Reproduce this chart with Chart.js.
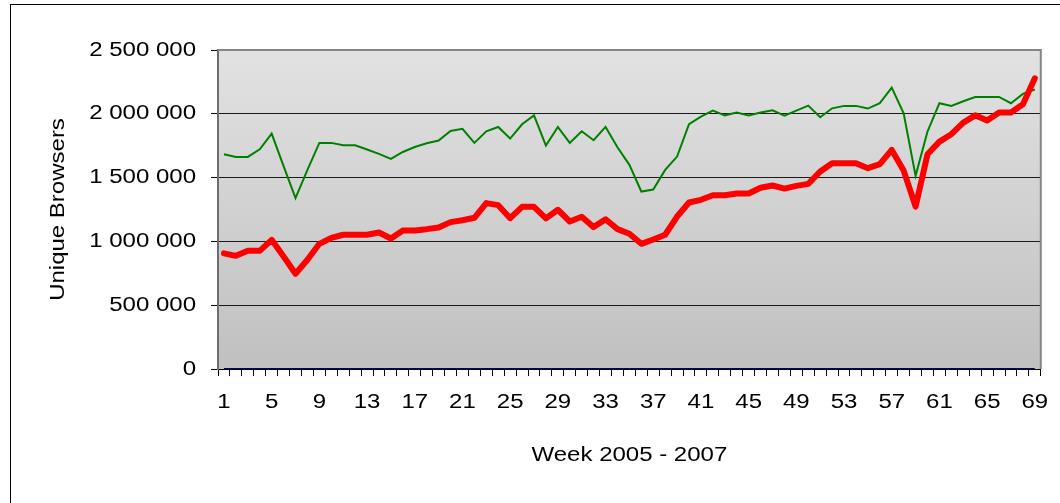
<!DOCTYPE html>
<html>
<head>
<meta charset="utf-8">
<script src="https://cdn.jsdelivr.net/npm/chart.js@4"></script>
<style>
  html, body { margin: 0; padding: 0; background: #fff; overflow: hidden; }
  #wrap { position: relative; width: 1060px; height: 503px; }
  #frame { position: absolute; left: 10px; top: 4px; width: 1200px; height: 700px; border: 1px solid #000; }
  #chart { position: absolute; left: 0; top: 0; }
</style>
</head>
<body>
<div id="wrap">
  <div id="frame"></div>
  <canvas id="chart" width="1060" height="503"></canvas>
</div>
<script>
// weeks 1..69 (2005 - 2007)
const weeks = [
  1, 2, 3, 4, 5, 6, 7, 8, 9, 10, 11, 12, 13, 14, 15, 16, 17, 18, 19, 20,
  21, 22, 23, 24, 25, 26, 27, 28, 29, 30, 31, 32, 33, 34, 35, 36, 37, 38, 39, 40,
  41, 42, 43, 44, 45, 46, 47, 48, 49, 50, 51, 52, 53, 54, 55, 56, 57, 58, 59, 60,
  61, 62, 63, 64, 65, 66, 67, 68, 69
];

// thin green line
const greenSeries = [
  1683000, 1662000, 1662000, 1722000, 1845000, 1590000, 1339000, 1560000, 1772000, 1772000,
  1754000, 1754000, 1720000, 1686000, 1647000, 1701000, 1740000, 1769000, 1790000, 1866000,
  1882000, 1772000, 1863000, 1897000, 1806000, 1918000, 1988000, 1751000, 1897000, 1772000,
  1863000, 1793000, 1897000, 1738000, 1600000, 1391000, 1407000, 1560000, 1665000, 1918000,
  1978000, 2025000, 1988000, 2010000, 1986000, 2010000, 2028000, 1986000, 2025000, 2064000,
  1973000, 2043000, 2062000, 2062000, 2041000, 2083000, 2205000, 2004000, 1514000, 1861000,
  2083000, 2062000, 2098000, 2132000, 2132000, 2132000, 2083000, 2156000, 2190000
];

// thick red line
const redSeries = [
  906000, 887000, 926000, 926000, 1012000, 882000, 746000, 856000, 981000, 1028000,
  1052000, 1052000, 1052000, 1070000, 1023000, 1086000, 1086000, 1096000, 1109000, 1151000,
  1166000, 1185000, 1300000, 1284000, 1182000, 1271000, 1271000, 1180000, 1248000, 1156000,
  1193000, 1112000, 1174000, 1096000, 1060000, 981000, 1015000, 1052000, 1195000, 1305000,
  1326000, 1362000, 1362000, 1375000, 1375000, 1420000, 1438000, 1414000, 1435000, 1451000,
  1548000, 1613000, 1613000, 1613000, 1574000, 1605000, 1717000, 1555000, 1273000, 1683000,
  1782000, 1840000, 1931000, 1988000, 1947000, 2010000, 2010000, 2075000, 2278000
];

// navy line lying on the baseline
const blueSeries = [
  0, 0, 0, 0, 0, 0, 0, 0, 0, 0, 0, 0, 0, 0, 0, 0, 0, 0, 0, 0,
  0, 0, 0, 0, 0, 0, 0, 0, 0, 0, 0, 0, 0, 0, 0, 0, 0, 0, 0, 0,
  0, 0, 0, 0, 0, 0, 0, 0, 0, 0, 0, 0, 0, 0, 0, 0, 0, 0, 0, 0,
  0, 0, 0, 0, 0, 0, 0, 0, 0
];

const yTicks = [0, 500000, 1000000, 1500000, 2000000, 2500000];

const FONT = "'Liberation Sans', Arial, sans-serif";

function spaced(n) {
  return String(n).replace(/\B(?=(\d{3})+(?!\d))/g, ' ');
}

// the original text is drawn wider than plain Arial: stretch it along its baseline
const wideText = {
  id: 'wideText',
  beforeDraw(chart) {
    const ctx = chart.ctx;
    if (ctx._wide) return;
    const orig = ctx.fillText.bind(ctx);
    ctx.fillText = function(t, x, y) {
      this.save();
      this.translate(x, y);
      this.scale(1.2, 1);
      orig(t, 0, 0);
      this.restore();
    };
    ctx._wide = true;
  }
};

// grey gradient plot area + grey frame
const plotBackground = {
  id: 'plotBackground',
  beforeDatasetsDraw(chart) {
    const { ctx, chartArea: a } = chart;
    ctx.save();
    const g = ctx.createLinearGradient(0, a.top, 0, a.bottom);
    g.addColorStop(0, '#e2e2e2');
    g.addColorStop(1, '#c0c0c0');
    ctx.globalCompositeOperation = 'destination-over';
    ctx.fillStyle = g;
    ctx.fillRect(a.left, a.top, a.right - a.left, a.bottom - a.top);
    ctx.restore();
  },
  afterDatasetsDraw(chart) {
    const { ctx, chartArea: a } = chart;
    ctx.save();
    ctx.strokeStyle = '#858585';
    ctx.lineWidth = 2;
    ctx.beginPath();
    ctx.moveTo(a.left, a.top);
    ctx.lineTo(a.right, a.top);
    ctx.lineTo(a.right, a.bottom);
    ctx.stroke();
    ctx.restore();
  }
};

new Chart(document.getElementById('chart').getContext('2d'), {
  type: 'line',
  data: {
    labels: weeks,
    datasets: [
      {
        data: blueSeries,
        borderColor: '#000080',
        borderWidth: 2,
        pointRadius: 0,
        tension: 0,
        order: 3
      },
      {
        data: greenSeries,
        borderColor: '#008000',
        borderWidth: 2,
        pointRadius: 0,
        tension: 0,
        order: 2
      },
      {
        data: redSeries,
        borderColor: '#ff0000',
        borderWidth: 6,
        borderJoinStyle: 'round',
        borderCapStyle: 'round',
        pointRadius: 0,
        tension: 0,
        order: 1
      }
    ]
  },
  options: {
    responsive: false,
    animation: false,
    layout: { padding: { left: 0, top: 50, right: 7, bottom: 0 } },
    plugins: {
      legend: { display: false },
      tooltip: { enabled: false }
    },
    scales: {
      x: {
        type: 'category',
        offset: true,
        afterFit(scale) { scale.height = 134; },
        grid: {
          offset: true,
          drawOnChartArea: false,
          drawTicks: true,
          tickLength: 7,
          tickColor: '#000'
        },
        border: { display: true, color: '#000', width: 1 },
        ticks: {
          autoSkip: false,
          maxRotation: 0,
          padding: 14,
          color: '#000',
          font: { family: FONT, size: 20 },
          callback(value, index) {
            return index % 4 === 0 ? String(weeks[index]) : '';
          }
        },
        title: {
          display: true,
          text: 'Week 2005 - 2007',
          color: '#000',
          font: { family: FONT, size: 20 },
          padding: { top: 0, bottom: 36 }
        }
      },
      y: {
        min: 0,
        max: 2500000,
        afterFit(scale) { scale.width = 218; },
        afterBuildTicks(scale) {
          scale.ticks = yTicks.map(v => ({ value: v }));
        },
        grid: {
          drawTicks: true,
          tickLength: 7,
          tickColor: '#000',
          color(ctx) {
            const v = ctx.tick ? ctx.tick.value : null;
            return (v === 0 || v === 2500000) ? 'rgba(0,0,0,0)' : '#1a1a1a';
          },
          lineWidth: 1
        },
        border: { display: true, color: '#6e6e6e', width: 2 },
        ticks: {
          padding: 15,
          color: '#000',
          font: { family: FONT, size: 20 },
          callback(value) { return spaced(value); }
        },
        title: {
          display: true,
          text: 'Unique Browsers',
          color: '#000',
          font: { family: FONT, size: 20 },
          padding: { top: 46, bottom: 0 }
        }
      }
    }
  },
  plugins: [wideText, plotBackground]
});
</script>
</body>
</html>
